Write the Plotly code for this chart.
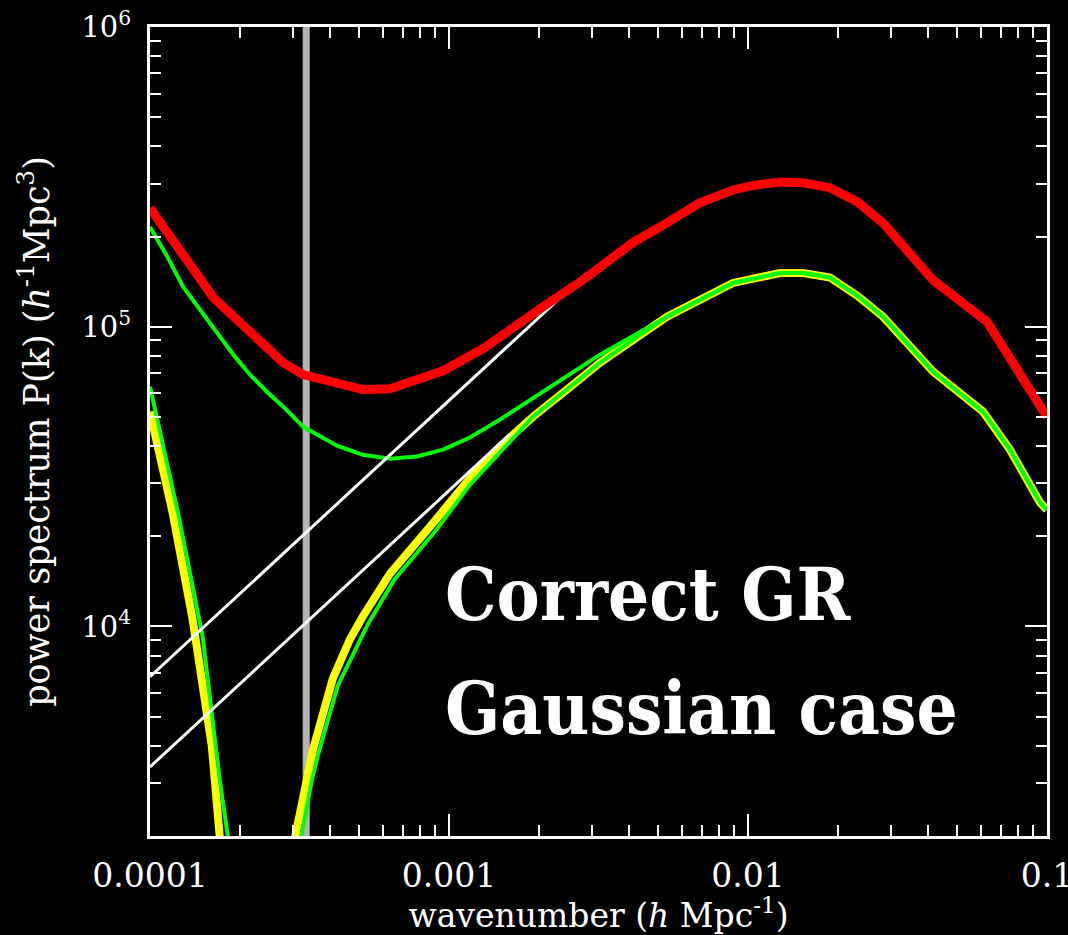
import plotly.graph_objects as go

# ---------------- data ----------------
# thick red curve
red_k = [1.0e-4, 1.29e-4, 1.63e-4, 2.16e-4, 2.79e-4, 3.25e-4, 4.22e-4, 5.15e-4,
         6.35e-4, 7.81e-4, 9.55e-4, 1.3e-3, 1.69e-3, 2.18e-3, 2.8e-3, 4.12e-3,
         5.36e-3, 6.9e-3, 8.91e-3, 1.04e-2, 1.28e-2, 1.53e-2, 1.88e-2, 2.32e-2,
         2.83e-2, 4.16e-2, 6.3e-2, 7.52e-2, 0.1]
red_p = [2.49e5, 1.73e5, 1.25e5, 9.62e4, 7.59e4, 6.92e4, 6.45e4, 6.17e4,
         6.21e4, 6.65e4, 7.13e4, 8.45e4, 1.02e5, 1.21e5, 1.43e5, 1.91e5,
         2.22e5, 2.59e5, 2.86e5, 2.96e5, 3.04e5, 3.02e5, 2.91e5, 2.61e5,
         2.22e5, 1.43e5, 1.04e5, 7.94e4, 5.0e4]

# thin green curve (upper branch, joins the lower curve at high k)
green_up_k = [1.0e-4, 1.14e-4, 1.29e-4, 1.47e-4, 1.67e-4, 1.9e-4, 2.16e-4, 2.46e-4,
              2.79e-4, 3.25e-4, 4.22e-4, 5.15e-4, 6.35e-4, 7.81e-4, 9.55e-4, 1.175e-3,
              1.48e-3, 2.18e-3, 3.2e-3, 5.36e-3, 8.91e-3, 1.28e-2, 1.53e-2, 1.88e-2,
              2.32e-2, 2.83e-2, 4.16e-2, 6.11e-2, 7.52e-2, 9.48e-2, 0.1]
green_up_p = [2.15e5, 1.72e5, 1.36e5, 1.14e5, 9.55e4, 8.07e4, 6.92e4, 6.07e4,
              5.41e4, 4.64e4, 4.01e4, 3.74e4, 3.63e4, 3.69e4, 3.89e4, 4.27e4,
              4.9e4, 6.31e4, 8.07e4, 1.08e5, 1.40e5, 1.51e5, 1.51e5, 1.46e5,
              1.27e5, 1.08e5, 7.08e4, 5.21e4, 3.89e4, 2.59e4, 2.45e4]

# thick yellow curve, left (plunging) branch
yellow_left_k = [1.0e-4, 1.19e-4, 1.39e-4, 1.5e-4, 1.61e-4, 1.71e-4, 1.725e-4]
yellow_left_p = [5.21e4, 2.4e4, 1.05e4, 6.66e3, 3.98e3, 2.0e3, 1.67e3]

# thick yellow curve, right (rising) branch
yellow_right_k = [3.0e-4, 3.35e-4, 3.51e-4, 4.09e-4, 4.66e-4, 5.15e-4, 6.35e-4, 8.63e-4,
                  1.15e-3, 1.48e-3, 1.91e-3, 2.48e-3, 3.2e-3, 5.36e-3, 8.91e-3, 1.28e-2,
                  1.53e-2, 1.88e-2, 2.32e-2, 2.83e-2, 4.16e-2, 6.11e-2, 7.52e-2, 9.48e-2, 0.1]
yellow_right_p = [1.81e3, 3.14e3, 3.89e3, 6.71e3, 9.05e3, 1.08e4, 1.5e4, 2.15e4,
                  3.04e4, 3.98e4, 5.01e4, 6.17e4, 7.59e4, 1.08e5, 1.40e5, 1.51e5,
                  1.51e5, 1.46e5, 1.27e5, 1.08e5, 7.08e4, 5.21e4, 3.89e4, 2.59e4, 2.45e4]

# green curve drawn over the yellow one, left branch
green_left_k = [1.0e-4, 1.24e-4, 1.5e-4, 1.61e-4, 1.71e-4, 1.82e-4, 1.84e-4]
green_left_p = [6.31e4, 2.4e4, 9.26e3, 5.17e3, 3.09e3, 2.0e3, 1.67e3]

# green curve drawn over the yellow one, right branch
green_right_k = [3.15e-4, 3.48e-4, 3.65e-4, 4.25e-4, 5.36e-4, 6.59e-4, 8.97e-4, 1.175e-3,
                 1.91e-3, 2.48e-3, 3.2e-3, 5.36e-3, 8.91e-3, 1.28e-2, 1.53e-2, 1.88e-2,
                 2.32e-2, 2.83e-2, 4.16e-2, 6.11e-2, 7.52e-2, 9.48e-2, 0.1]
green_right_p = [1.81e3, 3.09e3, 3.74e3, 6.36e3, 1.02e4, 1.44e4, 2.07e4, 2.97e4,
                 5.01e4, 6.17e4, 7.59e4, 1.08e5, 1.40e5, 1.51e5, 1.51e5, 1.46e5,
                 1.27e5, 1.08e5, 7.08e4, 5.21e4, 3.89e4, 2.59e4, 2.45e4]

# two straight white power-law lines (end points)
white_up_k = [1.0e-4, 2.85e-3]
white_up_p = [6.8e3, 1.49e5]
white_lo_k = [1.0e-4, 1.6e-3]
white_lo_p = [3.4e3, 4.38e4]

# vertical grey marker
vline_k = 3.33e-4

# axes
x_range_log = [-4, -1]
y_range_log = [3.301, 6]
x_tickvals = [1e-4, 1e-3, 1e-2, 1e-1]
x_ticktext = ["0.0001", "0.001", "0.01", "0.1"]
y_tickvals = [1e4, 1e5, 1e6]
y_ticktext = ["10<sup>4</sup>", "10<sup>5</sup>", "10<sup>6</sup>"]

label_lines = ["Correct GR", "Gaussian case"]

# ---------------- figure ----------------
FONT = "DejaVu Serif"
BIGFONT = "DejaVu Serif Condensed, DejaVu Serif"
fig = go.Figure()

fig.add_trace(go.Scatter(x=[vline_k, vline_k],
                         y=[10 ** y_range_log[0], 10 ** y_range_log[1]],
                         mode="lines", line=dict(color="#b4b4b4", width=7),
                         hoverinfo="skip"))

def line(x, y, color, width):
    fig.add_trace(go.Scatter(x=x, y=y, mode="lines",
                             line=dict(color=color, width=width),
                             hoverinfo="skip"))

line(yellow_left_k, yellow_left_p, "#ffff00", 8)
line(green_left_k, green_left_p, "#00ff00", 4)
line(yellow_right_k, yellow_right_p, "#ffff00", 8)
line(green_right_k, green_right_p, "#00ff00", 4)
line(green_up_k, green_up_p, "#00ff00", 4)
line(white_up_k, white_up_p, "#ffffff", 3)
line(white_lo_k, white_lo_p, "#ffffff", 3)
line(red_k, red_p, "#ff0000", 9)

def axis_common(tick_size):
    return dict(
        showline=True, linecolor="white", linewidth=3, mirror="ticks",
        ticks="inside", tickcolor="white", tickwidth=2, ticklen=22,
        showgrid=False, zeroline=False, automargin=False,
        tickfont=dict(family=FONT, color="white", size=tick_size),
        minor=dict(ticks="inside", ticklen=11, tickwidth=2, tickcolor="white",
                   dtick="D1", showgrid=False),
    )

fig.update_xaxes(type="log", range=x_range_log, tickmode="array",
                 tickvals=x_tickvals, ticktext=x_ticktext,
                 ticklabelstandoff=8, ticklabeloverflow="allow",
                 title=dict(text="wavenumber (<i>h</i> Mpc<sup>-1</sup>)",
                            font=dict(family=FONT, size=33, color="white"),
                            standoff=2),
                 **axis_common(33))
fig.update_yaxes(type="log", range=y_range_log, tickmode="array",
                 tickvals=y_tickvals, ticktext=y_ticktext,
                 ticklabelstandoff=10,
                 title=dict(text="power spectrum P(k) (<i>h</i><sup>-1</sup>Mpc<sup>3</sup>)",
                            font=dict(family=FONT, size=35, color="white"),
                            standoff=22),
                 **axis_common(29))

fig.add_annotation(x=0.3266, y=0.299, xref="paper", yref="paper",
                   xanchor="left", yanchor="middle", showarrow=False,
                   text="<b>" + label_lines[0] + "</b>",
                   font=dict(family=BIGFONT, size=72, color="white"))
fig.add_annotation(x=0.3266, y=0.157, xref="paper", yref="paper",
                   xanchor="left", yanchor="middle", showarrow=False,
                   text="<b>" + label_lines[1] + "</b>",
                   font=dict(family=BIGFONT, size=72, color="white"))

fig.update_layout(width=1068, height=935,
                  margin=dict(l=150, r=21, t=27, b=99),
                  paper_bgcolor="black", plot_bgcolor="black",
                  showlegend=False)

fig.write_html("out.html")
